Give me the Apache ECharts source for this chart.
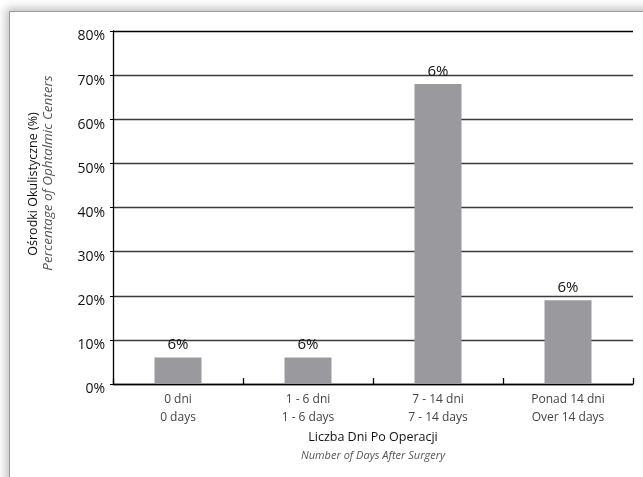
<!DOCTYPE html>
<html>
<head>
<meta charset="utf-8">
<script src="https://cdn.jsdelivr.net/npm/echarts@6/dist/echarts.min.js"></script>
<style>
  html, body { margin: 0; padding: 0; background: #fff; width: 643px; height: 477px; overflow: hidden; }
  #card {
    position: absolute; left: 9px; top: 11px; width: 660px; height: 500px;
    background: #fff; border: 1px solid #9a9a9a;
    box-shadow: 0 0 9px 3px rgba(0,0,0,0.25);
  }
  #chart { position: absolute; left: 0; top: 0; width: 643px; height: 477px; }
</style>
</head>
<body>
<div id="card"></div>
<div id="chart"></div>
<script>
// Share of ophthalmic centres by number of days after surgery
const categoriesPl = ['0 dni', '1 - 6 dni', '7 - 14 dni', 'Ponad 14 dni'];
const categoriesEn = ['0 days', '1 - 6 days', '7 - 14 days', 'Over 14 days'];
const values = [6, 6, 68, 19];
const barLabels = ['6%', '6%', '6%', '6%'];
const yTicks = [0, 10, 20, 30, 40, 50, 60, 70, 80];

const FONT = '"Open Sans", "Noto Sans", sans-serif';
const chart = echarts.init(document.getElementById('chart'), null, { renderer: 'canvas' });

const gridColors = yTicks.map((t, i) => i === yTicks.length - 1 ? '#000' : '#3a3a3a');

chart.setOption({
  animation: false,
  backgroundColor: 'transparent',
  grid: { left: 113, right: 10, top: 31, bottom: 93 },
  xAxis: {
    type: 'category',
    data: categoriesPl.map((c, i) => c + '\n' + categoriesEn[i]),
    axisLine: { lineStyle: { color: '#000', width: 1.3 } },
    axisTick: { show: true, inside: true, length: 6, alignWithLabel: false, lineStyle: { color: '#000', width: 1.3 } },
    axisLabel: { color: '#444', fontFamily: FONT, fontSize: 12, lineHeight: 18, margin: 7 }
  },
  yAxis: {
    type: 'value',
    min: yTicks[0],
    max: yTicks[yTicks.length - 1],
    interval: 10,
    axisLine: { show: true, lineStyle: { color: '#000', width: 1.3 } },
    axisTick: { show: true, length: 3, lineStyle: { color: '#000' } },
    axisLabel: {
      formatter: v => '{t|' + v + '%}',
      margin: 8,
      verticalAlign: 'top',
      rich: { t: { color: '#111', fontFamily: FONT, fontSize: 14, lineHeight: 11 } }
    },
    splitLine: { show: true, lineStyle: { color: gridColors, width: 1.3 } }
  },
  series: [{
    type: 'bar',
    data: values,
    barWidth: 47,
    itemStyle: { color: '#9a999e' },
    label: {
      show: true, position: 'top', distance: 5,
      formatter: p => barLabels[p.dataIndex],
      color: '#111', fontFamily: FONT, fontSize: 15
    }
  }],
  graphic: [
    {
      type: 'text', x: 33, y: 184, rotation: Math.PI / 2,
      style: { text: 'Ośrodki Okulistyczne (%)', fill: '#111', font: '12.5px ' + FONT, textAlign: 'center', textVerticalAlign: 'middle' }
    },
    {
      type: 'text', x: 48, y: 173, rotation: Math.PI / 2,
      style: { text: 'Percentage of Ophtalmic Centers', fill: '#555', font: 'italic 13.5px ' + FONT, textAlign: 'center', textVerticalAlign: 'middle' }
    },
    {
      type: 'text', x: 373, y: 437,
      style: { text: 'Liczba Dni Po Operacji', fill: '#111', font: '12.5px ' + FONT, textAlign: 'center', textVerticalAlign: 'middle' }
    },
    {
      type: 'text', x: 373, y: 456,
      style: { text: 'Number of Days After Surgery', fill: '#555', font: 'italic 11px ' + FONT, textAlign: 'center', textVerticalAlign: 'middle' }
    }
  ]
});
</script>
</body>
</html>
